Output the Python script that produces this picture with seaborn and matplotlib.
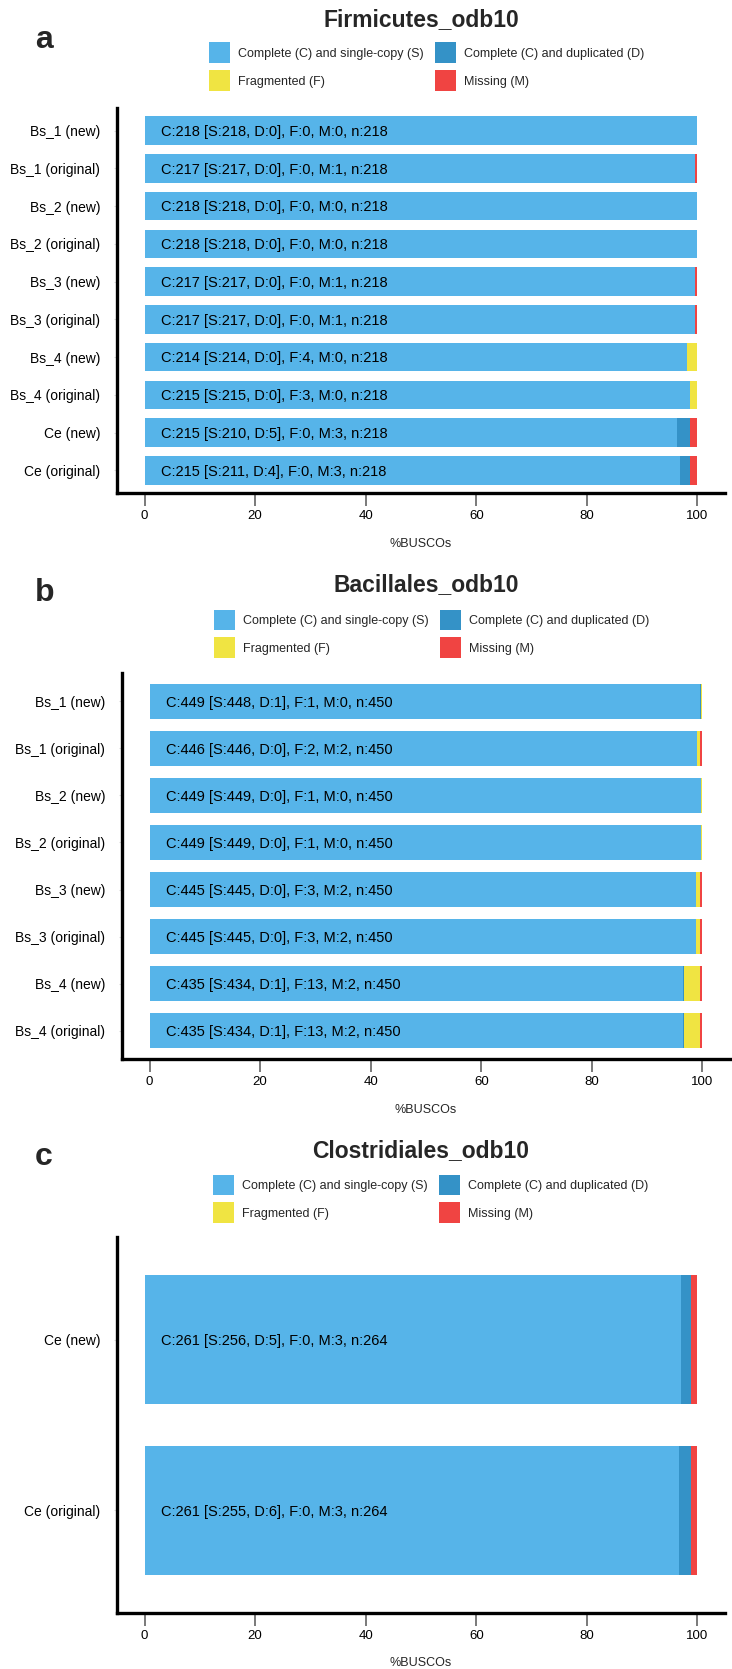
import numpy as np
import pandas as pd
import matplotlib
matplotlib.use("Agg")
import matplotlib.pyplot as plt
from matplotlib.patches import Patch
from matplotlib.transforms import offset_copy
import seaborn as sns

# ---------------- data ----------------
cat_labels = ["Complete (C) and single-copy (S)", "Complete (C) and duplicated (D)",
              "Fragmented (F)", "Missing (M)"]
cat_colors = ["#56B4E9", "#3492C7", "#F0E442", "#F04442"]

firm_title = "Firmicutes_odb10"
firm_samples = ["Bs_1 (new)", "Bs_1 (original)", "Bs_2 (new)", "Bs_2 (original)",
                "Bs_3 (new)", "Bs_3 (original)", "Bs_4 (new)", "Bs_4 (original)",
                "Ce (new)", "Ce (original)"]
firm_S = [218, 217, 218, 218, 217, 217, 214, 215, 210, 211]
firm_D = [0, 0, 0, 0, 0, 0, 0, 0, 5, 4]
firm_F = [0, 0, 0, 0, 0, 0, 4, 3, 0, 0]
firm_M = [0, 1, 0, 0, 1, 1, 0, 0, 3, 3]
firm_n = 218

bac_title = "Bacillales_odb10"
bac_samples = ["Bs_1 (new)", "Bs_1 (original)", "Bs_2 (new)", "Bs_2 (original)",
               "Bs_3 (new)", "Bs_3 (original)", "Bs_4 (new)", "Bs_4 (original)"]
bac_S = [448, 446, 449, 449, 445, 445, 434, 434]
bac_D = [1, 0, 0, 0, 0, 0, 1, 1]
bac_F = [1, 2, 1, 1, 3, 3, 13, 13]
bac_M = [0, 2, 0, 0, 2, 2, 2, 2]
bac_n = 450

clo_title = "Clostridiales_odb10"
clo_samples = ["Ce (new)", "Ce (original)"]
clo_S = [256, 255]
clo_D = [5, 6]
clo_F = [0, 0]
clo_M = [3, 3]
clo_n = 264

x_ticks = [0, 20, 40, 60, 80, 100]
x_label = "%BUSCOs"
panel_letters = ["a", "b", "c"]

# ---------------- style ----------------
sns.set_style("white")
plt.rcParams["font.family"] = ["Liberation Sans", "DejaVu Sans"]

W, H = 732, 1669
fig = plt.figure(figsize=(W / 100, H / 100), dpi=100)
fig.patch.set_facecolor("white")


def add_ax(l, t, r, b):
    return fig.add_axes([l / W, 1 - b / H, (r - l) / W, (b - t) / H])


def draw_panel(box, title, samples, S, D, F, M, n, title_y, legend_x, legend_row1,
               letter, letter_base, xlabel_y):
    l, t, r, b = box
    ax = add_ax(l, t, r, b)
    S = np.array(S); D = np.array(D); F = np.array(F); M = np.array(M)
    layers = [(S + D + F + M, cat_colors[3]), (S + D + F, cat_colors[2]),
              (S + D, cat_colors[1]), (S, cat_colors[0])]
    for vals, col in layers:
        df = pd.DataFrame({"pct": vals / n * 100.0, "sample": samples})
        sns.barplot(data=df, x="pct", y="sample", orient="h", color=col,
                    saturation=1, width=0.75, linewidth=0, errorbar=None, ax=ax)
    txt_tr = offset_copy(ax.transData, fig=fig, x=0, y=-3.8, units="points")
    for i, s in enumerate(samples):
        lab = f"C:{S[i] + D[i]} [S:{S[i]}, D:{D[i]}], F:{F[i]}, M:{M[i]}, n:{n}"
        ax.text(3, i, lab, ha="left", va="baseline", fontsize=10.5, color="black",
                transform=txt_tr)
    ax.set_xlim(-5, 105)
    ax.set_ylim(len(samples) - 1 + 0.6, -0.6)
    ax.set_xticks(x_ticks)
    ax.set_xticklabels([str(v) for v in x_ticks])
    ax.set_ylabel("")
    ax.set_xlabel(x_label, fontsize=9, va="center")
    hpx = b - t
    ax.xaxis.set_label_coords(0.5, -(xlabel_y - b) / hpx)
    for sp in ["top", "right"]:
        ax.spines[sp].set_visible(False)
    for sp in ["left", "bottom"]:
        ax.spines[sp].set_color("black")
        ax.spines[sp].set_linewidth(2.4)
    ax.tick_params(axis="x", bottom=True, length=9, width=1.1, color="#555555", pad=3.2,
                   labelsize=9.5, labelcolor="black", direction="out")
    ax.tick_params(axis="y", left=True, length=2, width=0.8, color="#dddddd", pad=10,
                   labelsize=10, labelcolor="black", direction="out")
    ax.grid(False)
    ax.set_facecolor("white")
    # title
    ax.text(0.5, 1 + (t - title_y) / hpx, title, transform=ax.transAxes,
            ha="center", va="center", fontsize=16.5, fontweight="bold")
    # legend
    handles = [Patch(facecolor=c, edgecolor="none") for c in cat_colors]
    order = [0, 2, 1, 3]
    fig.legend([handles[k] for k in order], [cat_labels[k] for k in order],
               ncol=2, loc="upper left",
               bbox_to_anchor=(legend_x / W, 1 - (legend_row1 - 10.5) / H),
               frameon=False, fontsize=9, handlelength=1.65, handleheight=2.2,
               labelspacing=0.56, handletextpad=0.64, columnspacing=0.95,
               borderpad=0, borderaxespad=0)
    # panel letter
    fig.text(35 / W, 1 - letter_base / H, letter, ha="left", va="baseline",
             fontsize=23, fontweight="bold")
    return ax


draw_panel((117, 108, 725, 493), firm_title, firm_samples, firm_S, firm_D, firm_F,
           firm_M, firm_n, 20, 209, 53, panel_letters[0], 48, 544)
draw_panel((122, 673, 730, 1059), bac_title, bac_samples, bac_S, bac_D, bac_F,
           bac_M, bac_n, 585, 214, 620, panel_letters[1], 601, 1110)
draw_panel((117, 1237, 725, 1613), clo_title, clo_samples, clo_S, clo_D, clo_F,
           clo_M, clo_n, 1151, 213, 1185, panel_letters[2], 1165, 1663)

fig.savefig("out.png", dpi=100, facecolor="white")
